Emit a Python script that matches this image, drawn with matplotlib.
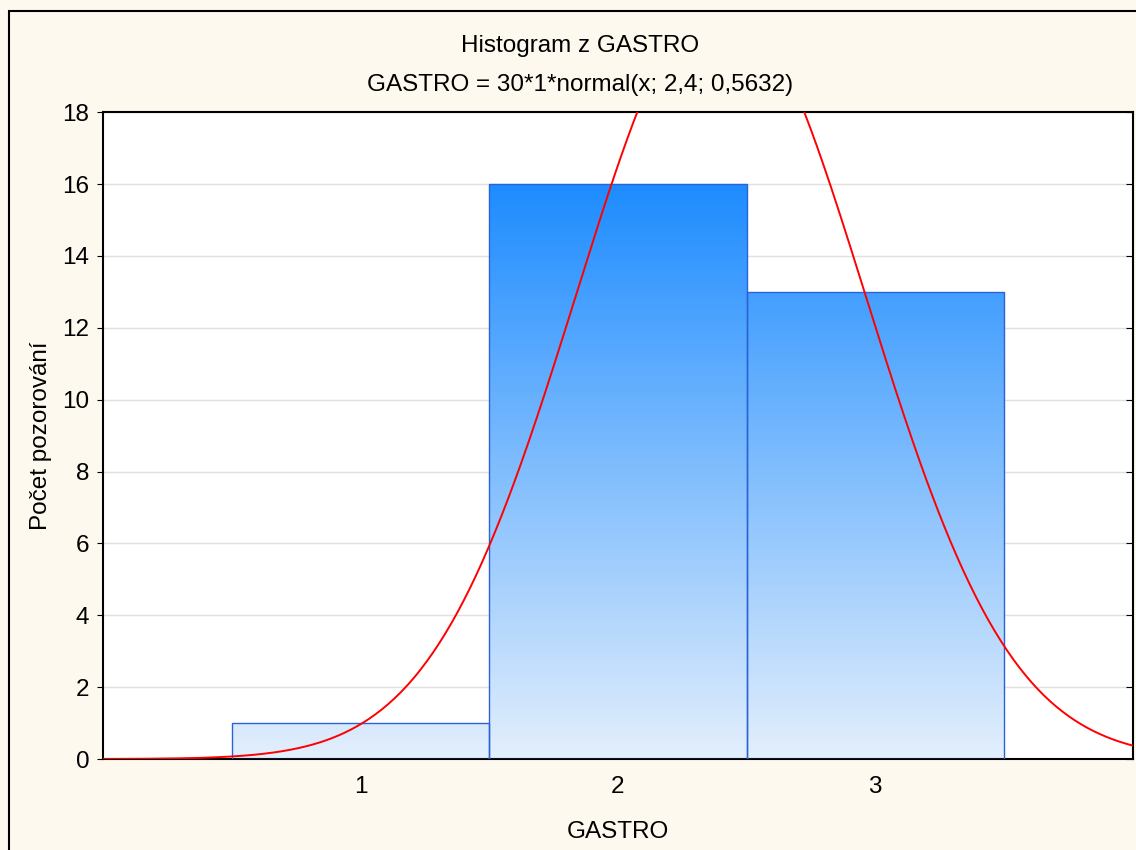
import numpy as np
import matplotlib
matplotlib.use("Agg")
import matplotlib.pyplot as plt
from matplotlib.patches import Rectangle
from matplotlib.colors import LinearSegmentedColormap

plt.rcParams['font.family'] = ['Liberation Sans', 'DejaVu Sans']

# data
bin_centers = [1, 2, 3]
counts = [1, 16, 13]
n_total = 30
mu = 2.4
sigma = 0.5632
title1 = "Histogram z GASTRO"
title2 = "GASTRO = 30*1*normal(x; 2,4; 0,5632)"

fs = 17.5

fig = plt.figure(figsize=(11.36, 8.5), dpi=100, facecolor='#fdf9ef')
ax = fig.add_axes([0.0907, 0.107, 0.9063, 0.761])
ax.set_facecolor('white')

# figure border (left and top visible)
fig.patches.append(Rectangle((9 / 1136, -0.05), 1.2, 1 - 11 / 850 + 0.05,
                             transform=fig.transFigure, fill=False,
                             edgecolor='black', lw=1.5, zorder=0))

# gradient bars
cmap = LinearSegmentedColormap.from_list('g', ['#e3effc', '#1e8cff'])
grad = np.linspace(0, 1, 256).reshape(-1, 1)
for c, h in zip(bin_centers, counts):
    rect = Rectangle((c - 0.5, 0), 1, h, facecolor='none', edgecolor='#2a62d8',
                     lw=1.0, zorder=3)
    ax.add_patch(rect)
    im = ax.imshow(grad, cmap=cmap, origin='lower', aspect='auto',
                   extent=(c - 0.5, c + 0.5, 0, 16), zorder=2,
                   interpolation='bilinear')
    im.set_clip_path(rect)

# normal curve
x = np.linspace(0, 4, 500)
y = n_total * 1 * np.exp(-0.5 * ((x - mu) / sigma) ** 2) / (sigma * np.sqrt(2 * np.pi))
ax.plot(x, y, color='#ff0000', lw=1.4, zorder=4)

ax.set_xlim(0, 4)
ax.set_ylim(0, 18)
ax.set_xticks(bin_centers)
ax.set_yticks(range(0, 19, 2))
ax.yaxis.grid(True, color='#e0e0e0', lw=1)
ax.set_axisbelow(True)
ax.tick_params(axis='x', direction='in', length=5, labelsize=fs, pad=12)
ax.tick_params(axis='y', direction='out', length=4, labelsize=fs, pad=6)
for s in ax.spines.values():
    s.set_color('black')
    s.set_linewidth(1.5)

# right side ticks point inward
ax2 = ax.twinx()
ax2.set_ylim(0, 18)
ax2.set_yticks(range(0, 19, 2))
ax2.tick_params(axis='y', direction='in', length=5, labelright=False)
for s in ax2.spines.values():
    s.set_visible(False)

ax.set_xlabel("GASTRO", fontsize=fs, labelpad=17)
ax.set_ylabel("Počet pozorování", fontsize=fs, labelpad=7)
fig.text(0.5106, 1 - 46 / 850, title1, ha='center', va='center', fontsize=fs)
fig.text(0.5106, 1 - 85 / 850, title2, ha='center', va='center', fontsize=fs)

fig.savefig('out.png', dpi=100, facecolor=fig.get_facecolor())
